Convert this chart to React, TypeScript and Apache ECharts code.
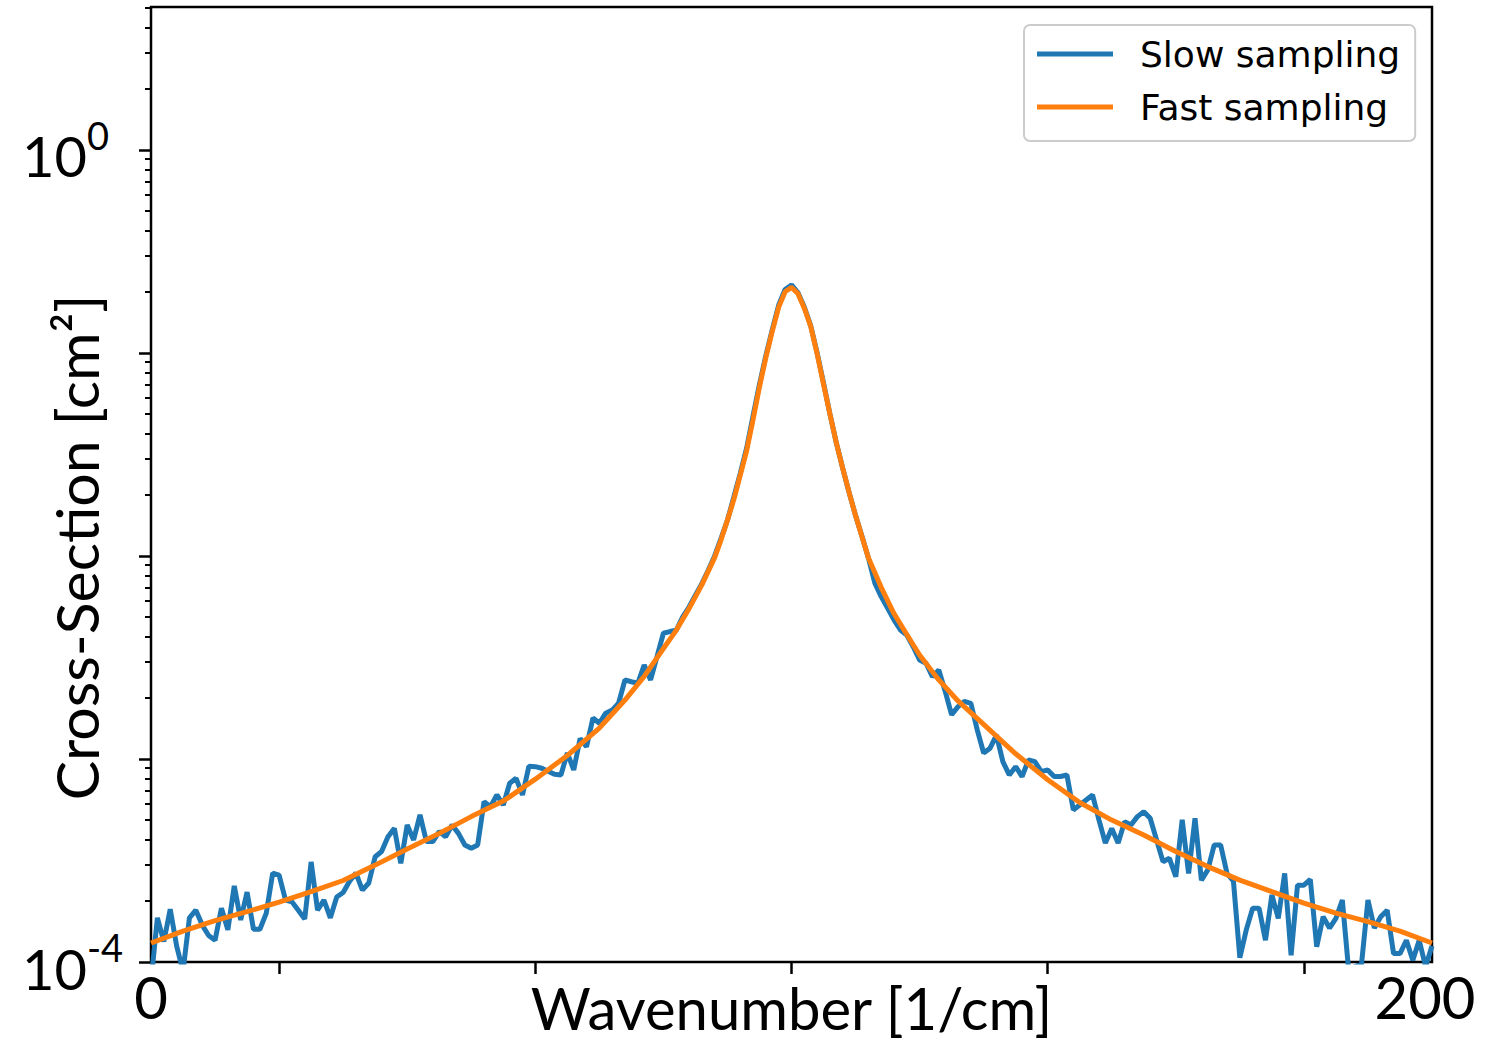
import React, { useEffect, useRef } from 'react';
import * as echarts from 'echarts';

// Slow sampling: one value per wavenumber step 0..200
const slowSampling: number[] = [
  8.0e-5, 1.65e-4, 1.26e-4, 1.82e-4, 1.2e-4, 9.0e-5, 1.65e-4, 1.8e-4, 1.52e-4, 1.35e-4,
  1.28e-4, 1.84e-4, 1.44e-4, 2.37e-4, 1.61e-4, 2.21e-4, 1.45e-4, 1.45e-4, 1.74e-4, 2.74e-4,
  2.68e-4, 2.02e-4, 1.98e-4, 1.8e-4, 1.63e-4, 3.11e-4, 1.8e-4, 2.02e-4, 1.65e-4, 2.09e-4,
  2.2e-4, 2.5e-4, 2.74e-4, 2.26e-4, 2.45e-4, 3.3e-4, 3.5e-4, 4.14e-4, 4.55e-4, 3.06e-4,
  4.73e-4, 3.99e-4, 5.3e-4, 3.92e-4, 3.92e-4, 4.39e-4, 4.14e-4, 4.73e-4, 4.3e-4, 3.77e-4,
  3.63e-4, 3.77e-4, 6.16e-4, 5.82e-4, 6.65e-4, 5.93e-4, 7.59e-4, 8.03e-4, 6.65e-4, 9.2e-4,
  9.16e-4, 9.0e-4, 8.7e-4, 8.4e-4, 8.34e-4, 1.07e-3, 8.83e-4, 1.26e-3, 1.15e-3, 1.59e-3,
  1.5e-3, 1.68e-3, 1.74e-3, 1.88e-3, 2.45e-3, 2.4e-3, 2.36e-3, 2.9e-3, 2.45e-3, 3.19e-3,
  4.16e-3, 4.24e-3, 4.3e-3, 5.0e-3, 5.6e-3, 6.4e-3, 7.3e-3, 8.5e-3, 1.0e-2, 1.22e-2,
  1.5e-2, 1.95e-2, 2.55e-2, 3.4e-2, 4.9e-2, 7.0e-2, 0.097, 0.13, 0.172, 0.205,
  0.216, 0.198, 0.168, 0.136, 0.1, 0.071, 0.05, 0.036, 0.027, 0.0205,
  0.0158, 0.0125, 0.0098, 7.36e-3, 6.3e-3, 5.54e-3, 4.84e-3, 4.32e-3, 4.08e-3, 3.57e-3,
  3.07e-3, 2.96e-3, 2.54e-3, 2.74e-3, 2.15e-3, 1.65e-3, 1.81e-3, 1.92e-3, 1.88e-3, 1.39e-3,
  1.07e-3, 1.13e-3, 1.31e-3, 9.7e-4, 8.34e-4, 9.16e-4, 8.19e-4, 9.89e-4, 9.7e-4, 8.66e-4,
  8.83e-4, 8.19e-4, 8.2e-4, 8.34e-4, 5.61e-4, 5.93e-4, 6.28e-4, 6.65e-4, 5.01e-4, 3.85e-4,
  4.55e-4, 3.85e-4, 4.91e-4, 4.73e-4, 5.2e-4, 5.5e-4, 5.1e-4, 3.99e-4, 3.12e-4, 3.24e-4,
  2.63e-4, 5.01e-4, 2.73e-4, 5.1e-4, 2.53e-4, 2.84e-4, 3.77e-4, 3.77e-4, 2.73e-4, 2.5e-4,
  1.05e-4, 1.44e-4, 1.84e-4, 1.84e-4, 1.28e-4, 2.14e-4, 1.64e-4, 2.73e-4, 1.08e-4, 2.39e-4,
  2.39e-4, 2.55e-4, 1.19e-4, 1.67e-4, 1.47e-4, 1.64e-4, 2.02e-4, 9.0e-5, 9.5e-5, 9.8e-5,
  2.02e-4, 1.47e-4, 1.67e-4, 1.8e-4, 1.1e-4, 1.1e-4, 1.28e-4, 1.02e-4, 1.28e-4, 9.5e-5,
  1.2e-4,
];

// Fast sampling: smooth curve, read at these wavenumbers
const fastX: number[] = [
  0, 5, 10, 15, 20, 25, 30, 35, 40, 45, 50, 55, 60, 65, 70, 74, 77, 80, 82, 84, 86, 88, 89,
  90, 91, 92, 93, 94, 95, 96, 97, 98, 99, 100, 101, 102, 103, 104, 105, 106, 107, 108, 109,
  110, 112, 114, 116, 118, 120, 123, 126, 130, 135, 140, 145, 150, 155, 160, 165, 170, 175,
  180, 185, 190, 195, 200,
];
const fastY: number[] = [
  1.24e-4, 1.42e-4, 1.6e-4, 1.77e-4, 1.97e-4, 2.22e-4, 2.52e-4, 3.0e-4, 3.6e-4, 4.3e-4,
  5.2e-4, 6.2e-4, 7.95e-4, 1.04e-3, 1.42e-3, 1.95e-3, 2.55e-3, 3.5e-3, 4.3e-3, 5.5e-3,
  7.2e-3, 9.8e-3, 1.2e-2, 1.5e-2, 1.9e-2, 2.5e-2, 3.3e-2, 4.7e-2, 6.8e-2, 0.095, 0.128,
  0.168, 0.2, 0.21, 0.196, 0.166, 0.135, 0.099, 0.07, 0.05, 0.036, 0.027, 0.0205, 0.0158,
  9.8e-3, 7.0e-3, 5.2e-3, 4.1e-3, 3.25e-3, 2.45e-3, 1.93e-3, 1.48e-3, 1.06e-3, 7.9e-4,
  6.1e-4, 5.0e-4, 4.22e-4, 3.5e-4, 2.95e-4, 2.53e-4, 2.22e-4, 1.95e-4, 1.74e-4, 1.58e-4,
  1.42e-4, 1.24e-4,
];

const seriesNames = ['Slow sampling', 'Fast sampling'];
const xLabelValues = [0, 200];
const xTickValues = [20, 60, 100, 140, 180];
const yLabelValues = [1e-4, 1];
const yMajorTicks = [1e-4, 1e-3, 1e-2, 1e-1, 1];
const yMinorTicks = [
  2e-4, 3e-4, 4e-4, 5e-4, 6e-4, 7e-4, 8e-4, 9e-4,
  2e-3, 3e-3, 4e-3, 5e-3, 6e-3, 7e-3, 8e-3, 9e-3,
  2e-2, 3e-2, 4e-2, 5e-2, 6e-2, 7e-2, 8e-2, 9e-2,
  0.2, 0.3, 0.4, 0.5, 0.6, 0.7, 0.8, 0.9,
  2, 3, 4, 5,
];
const yMin = 1e-4;
const yMax = 5.05;

export default function App() {
  const ref = useRef<HTMLDivElement>(null);
  useEffect(() => {
    if (!ref.current) return;
    const chart = echarts.init(ref.current, undefined, { renderer: 'svg' });
    const font = 'Lato';
    const tickLine = { color: '#000', width: 2.5 };
    const option: any = {
      animation: false,
      backgroundColor: '#ffffff',
      textStyle: { fontFamily: font },
      grid: {
        left: 151, right: 59, top: 7, bottom: 81,
        containLabel: false, outerBoundsMode: 'none',
        show: true, borderColor: '#000', borderWidth: 2.5, backgroundColor: 'transparent',
      },
      legend: {
        orient: 'vertical', left: 1024, top: 25,
        padding: [11, 15, 16, 13],
        itemGap: 17, itemWidth: 76, itemHeight: 5,
        icon: 'rect',
        backgroundColor: 'rgba(255,255,255,0.8)', borderColor: '#cccccc', borderWidth: 2, borderRadius: 6,
        textStyle: { fontFamily: 'DejaVu Sans', fontSize: 36, color: '#000', lineHeight: 36, padding: [0, 0, 0, 22] },
        data: seriesNames,
      },
      xAxis: {
        type: 'value', min: 0, max: 200, interval: 20,
        axisLine: { show: false },
        splitLine: { show: false },
        axisTick: { show: true, length: 12, lineStyle: tickLine, customValues: xTickValues },
        axisLabel: {
          customValues: xLabelValues, margin: 5,
          formatter: (v: number) => (v === 200 ? `{r|${v}}` : `{n|${v}}`),
          rich: {
            n: { fontSize: 58, color: '#000', fontFamily: font },
            r: { fontSize: 58, color: '#000', fontFamily: font, padding: [0, 14, 0, 0] },
          },
        },
        name: 'Wavenumber [1/cm]', nameLocation: 'middle', nameGap: 16, nameMoveOverlap: false,
        nameTextStyle: { fontSize: 58, color: '#000', fontFamily: font, lineHeight: 58 },
      },
      yAxis: [
        {
          type: 'log', logBase: 10, min: yMin, max: yMax, position: 'left', offset: 0,
          axisLine: { show: false }, splitLine: { show: false },
          axisTick: { show: true, length: 12, lineStyle: tickLine, customValues: yMajorTicks },
          axisLabel: {
            customValues: yLabelValues,
            margin: 129, align: 'left', padding: [0, 0, 0, 0],
            formatter: (v: number) => `{b|10}{s|${Math.round(Math.log10(v))}}`,
            rich: {
              b: { fontSize: 56, fontFamily: font, color: '#000', padding: [12, 0, 0, 0] },
              s: { fontSize: 38, fontFamily: font, color: '#000', verticalAlign: 'top' },
            },
          },
          name: 'Cross-Section [cm²]', nameLocation: 'middle', nameGap: 45, nameRotate: 90, nameMoveOverlap: false,
          nameTextStyle: { fontSize: 59, color: '#000', fontFamily: font, padding: [0, 126, 0, 0] },
        },
        {
          type: 'log', logBase: 10, min: yMin, max: yMax, position: 'left', offset: 0,
          axisLine: { show: false }, splitLine: { show: false }, axisLabel: { show: false },
          axisTick: { show: true, length: 6, lineStyle: { color: '#000', width: 2 }, customValues: yMinorTicks },
        },
      ],
      series: [
        {
          name: seriesNames[0], type: 'line', yAxisIndex: 0,
          data: slowSampling.map((v, i) => [i, v]),
          symbol: 'none', clip: true,
          lineStyle: { color: '#1f77b4', width: 5 }, itemStyle: { color: '#1f77b4' }, z: 2,
        },
        {
          name: seriesNames[1], type: 'line', yAxisIndex: 0,
          data: fastX.map((x, i) => [x, fastY[i]]),
          symbol: 'none', clip: true,
          lineStyle: { color: '#ff7f0e', width: 5 }, itemStyle: { color: '#ff7f0e' }, z: 3,
        },
      ],
    };
    chart.setOption(option);
    return () => chart.dispose();
  }, []);
  return (
    <div
      ref={ref}
      style={{ position: 'fixed', left: 0, top: 0, width: 1491, height: 1043, background: '#fff' }}
    />
  );
}
